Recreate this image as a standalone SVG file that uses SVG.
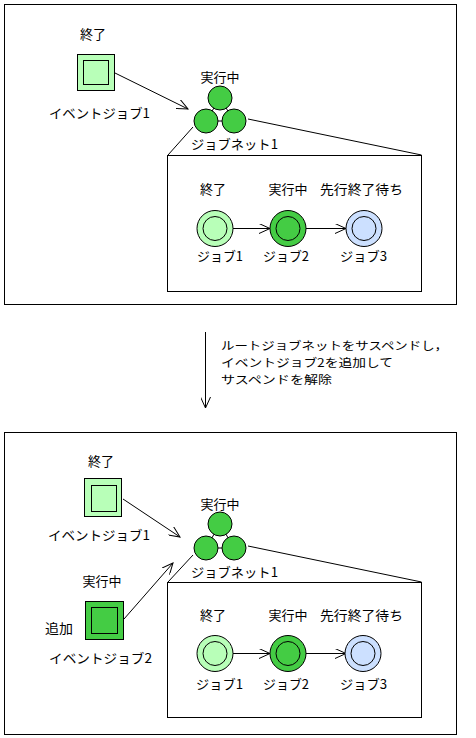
<svg xmlns="http://www.w3.org/2000/svg" width="476" height="738" viewBox="0 0 476 738">
<defs>
<marker id="open" viewBox="0 0 12 10" refX="11" refY="5" markerWidth="12" markerHeight="10" markerUnits="userSpaceOnUse" orient="auto">
<path d="M0,0 L11,5 L0,10" fill="none" stroke="#000" stroke-width="1"/>
</marker>
<style>
text{font-family:"Noto Sans CJK JP","Noto Sans",sans-serif;font-size:13px;fill:#000}
.m{text-anchor:middle}
.s{font-size:11.5px}
.frame{fill:#fff;stroke:#000;stroke-width:1}
.ln{fill:none;stroke:#000;stroke-width:1}
.arr{fill:none;stroke:#000;stroke-width:1;marker-end:url(#open)}
.lg{fill:#b8ffb8;stroke:#000;stroke-width:1}
.dg{fill:#44cc44;stroke:#000;stroke-width:1}
.lb{fill:#cce0ff;stroke:#000;stroke-width:1}
.in{fill:none;stroke:#000;stroke-width:1}
</style>
</defs>
<rect width="476" height="738" fill="#fff"/>

<!-- TOP PANEL -->
<rect id="frame-top" class="frame" x="4.5" y="4.5" width="452" height="300"/>
<rect id="inner-top" class="frame" x="167.5" y="155.5" width="254" height="136"/>

<g id="connectors-top">
<line class="arr" x1="115" y1="73" x2="188" y2="109"/>
<line class="ln" x1="193" y1="127" x2="168" y2="155"/>
<line class="ln" x1="248" y1="119" x2="421.5" y2="155"/>
<line class="ln" x1="206" y1="121" x2="234" y2="121"/>
<line class="ln" x1="220" y1="98" x2="206" y2="121"/>
<line class="ln" x1="220" y1="98" x2="234" y2="121"/>
<line class="arr" x1="233" y1="228.5" x2="270" y2="228.5"/>
<line class="arr" x1="306" y1="228.5" x2="346" y2="228.5"/>
</g>

<g id="evjob1-top">
<text class="m" x="93" y="39">終了</text>
<rect class="lg" x="77.5" y="54.5" width="37" height="36"/>
<rect class="in" x="83.5" y="60.5" width="25" height="24"/>
<text x="49" y="118" textLength="101" lengthAdjust="spacingAndGlyphs">イベントジョブ1</text>
</g>

<g id="jobnet1-top">
<text class="m" x="220" y="82">実行中</text>
<circle class="dg" cx="220" cy="98" r="12"/>
<circle class="dg" cx="206" cy="121" r="12"/>
<circle class="dg" cx="234" cy="121" r="12"/>
<text x="191" y="149" textLength="87" lengthAdjust="spacingAndGlyphs">ジョブネット1</text>
</g>

<g id="job1-top">
<text class="m" x="213" y="194">終了</text>
<circle class="lg" cx="215" cy="228.5" r="18"/>
<circle class="in" cx="215" cy="228.5" r="12"/>
<text x="197" y="261" textLength="46" lengthAdjust="spacingAndGlyphs">ジョブ1</text>
</g>
<g id="job2-top">
<text class="m" x="288" y="194">実行中</text>
<circle class="dg" cx="288" cy="228.5" r="18"/>
<circle class="in" cx="288" cy="228.5" r="12"/>
<text x="263" y="261" textLength="46" lengthAdjust="spacingAndGlyphs">ジョブ2</text>
</g>
<g id="job3-top">
<text x="320" y="194" textLength="83" lengthAdjust="spacingAndGlyphs">先行終了待ち</text>
<circle class="lb" cx="364" cy="228.5" r="18"/>
<circle class="in" cx="364" cy="228.5" r="12"/>
<text x="340" y="261" textLength="47" lengthAdjust="spacingAndGlyphs">ジョブ3</text>
</g>

<!-- MIDDLE -->
<g id="transition">
<line class="arr" x1="205.5" y1="332" x2="205.5" y2="408"/>
<text class="s" x="221" y="350" textLength="227" lengthAdjust="spacingAndGlyphs">ルートジョブネットをサスペンドし，</text>
<text class="s" x="221" y="367" textLength="172" lengthAdjust="spacingAndGlyphs">イベントジョブ2を追加して</text>
<text class="s" x="221" y="384" textLength="111" lengthAdjust="spacingAndGlyphs">サスペンドを解除</text>
</g>

<!-- BOTTOM PANEL -->
<rect id="frame-bottom" class="frame" x="4.5" y="432.5" width="452" height="302"/>
<rect id="inner-bottom" class="frame" x="167.5" y="582.5" width="254" height="135"/>

<g id="connectors-bottom">
<line class="arr" x1="123" y1="499" x2="180" y2="537"/>
<line class="arr" x1="124" y1="619" x2="173" y2="563"/>
<line class="ln" x1="193" y1="555" x2="168" y2="582"/>
<line class="ln" x1="248" y1="546" x2="421.5" y2="582"/>
<line class="ln" x1="206" y1="548" x2="234" y2="548"/>
<line class="ln" x1="220" y1="524" x2="206" y2="548"/>
<line class="ln" x1="220" y1="524" x2="234" y2="548"/>
<line class="arr" x1="233" y1="653.5" x2="270" y2="653.5"/>
<line class="arr" x1="306" y1="653.5" x2="346" y2="653.5"/>
</g>

<g id="evjob1-bottom">
<text class="m" x="101" y="466">終了</text>
<rect class="lg" x="84.5" y="478.5" width="37" height="38"/>
<rect class="in" x="91.5" y="485.5" width="25" height="26"/>
<text x="48" y="540" textLength="102" lengthAdjust="spacingAndGlyphs">イベントジョブ1</text>
</g>

<g id="evjob2-bottom">
<text class="m" x="102" y="586">実行中</text>
<text x="45" y="633" textLength="28" lengthAdjust="spacingAndGlyphs">追加</text>
<rect class="dg" x="85.5" y="601.5" width="38" height="38"/>
<rect class="in" x="91.5" y="607.5" width="26" height="26"/>
<text x="49" y="663" textLength="103" lengthAdjust="spacingAndGlyphs">イベントジョブ2</text>
</g>

<g id="jobnet1-bottom">
<text class="m" x="220" y="509">実行中</text>
<circle class="dg" cx="220" cy="524" r="12"/>
<circle class="dg" cx="206" cy="548" r="12"/>
<circle class="dg" cx="234" cy="548" r="12"/>
<text x="191" y="577" textLength="87" lengthAdjust="spacingAndGlyphs">ジョブネット1</text>
</g>

<g id="job1-bottom">
<text class="m" x="213" y="620">終了</text>
<circle class="lg" cx="215" cy="653.5" r="18"/>
<circle class="in" cx="215" cy="653.5" r="12"/>
<text x="196" y="689" textLength="47" lengthAdjust="spacingAndGlyphs">ジョブ1</text>
</g>
<g id="job2-bottom">
<text class="m" x="288" y="620">実行中</text>
<circle class="dg" cx="288" cy="653.5" r="18"/>
<circle class="in" cx="288" cy="653.5" r="12"/>
<text x="263" y="689" textLength="46" lengthAdjust="spacingAndGlyphs">ジョブ2</text>
</g>
<g id="job3-bottom">
<text x="320" y="620" textLength="83" lengthAdjust="spacingAndGlyphs">先行終了待ち</text>
<circle class="lb" cx="363" cy="653.5" r="18"/>
<circle class="in" cx="363" cy="653.5" r="12"/>
<text x="340" y="689" textLength="47" lengthAdjust="spacingAndGlyphs">ジョブ3</text>
</g>
</svg>
